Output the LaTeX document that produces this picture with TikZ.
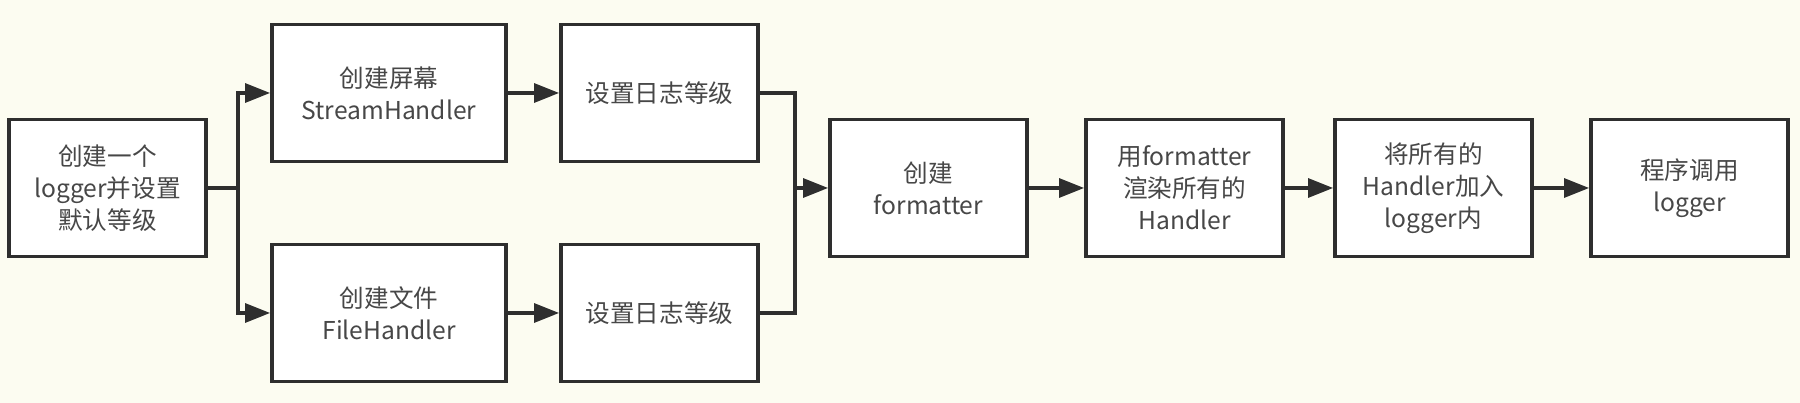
\documentclass[tikz,border=0pt]{standalone}
\usepackage{fontspec}
\setmainfont{Noto Sans CJK SC}
\usepackage{tikz}
\usetikzlibrary{arrows.meta}
\definecolor{paper}{HTML}{FCFCF1}
\definecolor{ink}{HTML}{2E2E2E}
\definecolor{words}{HTML}{474747}
\tikzset{
  box/.style={draw=ink, fill=white, line width=2.2pt, minimum width=3.94cm, minimum height=2.74cm,
    inner sep=2pt, align=center, text=words, font=\fontsize{14}{18.2}\selectfont},
  widebox/.style={box, minimum width=4.68cm},
  link/.style={draw=ink, line width=1.8pt, line join=miter},
  flow/.style={link, -{Triangle[length=0.5cm, width=0.38cm]}}
}

\begin{document}
\begin{tikzpicture}
  \fill[paper] (0,0) rectangle (36,8.06);
  \useasboundingbox (0,0) rectangle (36,8.06);

  \node[box] (logger) at (2.15,4.30) {创建一个\\logger并设置\\默认等级};
  \node[widebox] (stream) at (7.78,6.20) {创建屏幕\\StreamHandler};
  \node[widebox] (file) at (7.78,1.80) {创建文件\\FileHandler};
  \node[box] (levelA) at (13.19,6.20) {设置日志等级};
  \node[box] (levelB) at (13.19,1.80) {设置日志等级};
  \node[box] (fmt) at (18.57,4.30) {创建\\formatter};
  \node[box] (render) at (23.69,4.30) {用formatter\\渲染所有的\\Handler};
  \node[box] (attach) at (28.67,4.30) {将所有的\\Handler加入\\logger内};
  \node[box] (call) at (33.79,4.30) {程序调用\\logger};

  \coordinate (split) at (4.76,4.30);
  \coordinate (join) at (15.90,4.30);

  % fork to the two handlers
  \draw[link] (logger.east) -- (split);
  \draw[flow] (split) |- (stream.west);
  \draw[flow] (split) |- (file.west);
  \draw[flow] (stream) -- (levelA);
  \draw[flow] (file) -- (levelB);

  % merge into formatter
  \draw[link] (levelA.east) -| (join);
  \draw[link] (levelB.east) -| (join);
  \draw[flow] (join) -- (fmt.west);
  \draw[flow] (fmt) -- (render);
  \draw[flow] (render) -- (attach);
  \draw[flow] (attach) -- (call);
\end{tikzpicture}
\end{document}
